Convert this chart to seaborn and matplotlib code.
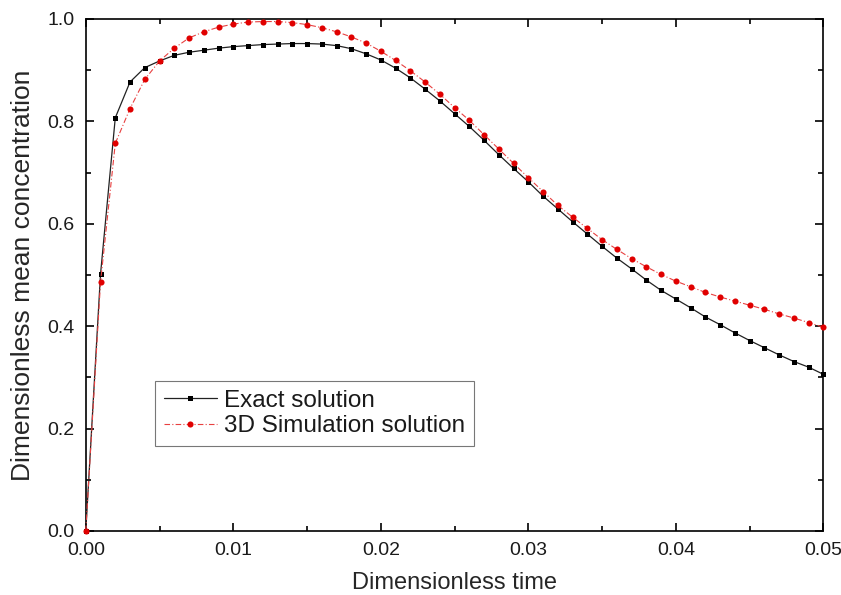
import numpy as np
import pandas as pd
import matplotlib
matplotlib.use("Agg")
import matplotlib.pyplot as plt
from matplotlib.ticker import MultipleLocator
from matplotlib.lines import Line2D
import seaborn as sns

# dimensionless time grid, one point every 0.001
time_values = np.linspace(0.0, 0.05, 51)

exact_solution = [
    0.000, 0.502, 0.807, 0.877, 0.905, 0.918, 0.929, 0.935, 0.939, 0.943,
    0.946, 0.948, 0.950, 0.951, 0.952, 0.952, 0.951, 0.948, 0.942, 0.932,
    0.920, 0.904, 0.885, 0.863, 0.840, 0.815, 0.790, 0.763, 0.735, 0.708,
    0.682, 0.654, 0.629, 0.604, 0.580, 0.556, 0.533, 0.512, 0.490, 0.470,
    0.453, 0.436, 0.418, 0.403, 0.387, 0.372, 0.358, 0.344, 0.331, 0.320,
    0.306,
]

simulation_solution = [
    0.000, 0.486, 0.757, 0.825, 0.882, 0.918, 0.943, 0.963, 0.975, 0.984,
    0.990, 0.994, 0.995, 0.995, 0.993, 0.989, 0.983, 0.975, 0.965, 0.953,
    0.937, 0.919, 0.899, 0.877, 0.853, 0.827, 0.802, 0.774, 0.746, 0.718,
    0.690, 0.663, 0.636, 0.613, 0.591, 0.569, 0.550, 0.532, 0.516, 0.501,
    0.488, 0.477, 0.466, 0.457, 0.449, 0.441, 0.433, 0.424, 0.416, 0.407,
    0.398,
]

series_labels = ["Exact solution", "3D Simulation solution"]

sns.set_style("ticks")
plt.rcParams["font.family"] = ["Liberation Sans", "DejaVu Sans"]
plt.rcParams["axes.linewidth"] = 1.2
plt.rcParams["text.color"] = "#1a1a1a"

df = pd.DataFrame({"t": time_values, "exact": exact_solution, "sim": simulation_solution})

fig = plt.figure(figsize=(8.41, 5.95), dpi=100)
ax = fig.add_axes([0.102, 0.1076, 0.877, 0.8605])

sns.lineplot(data=df, x="t", y="exact", ax=ax, color="#222222", linewidth=0.9,
             marker="s", markersize=3.6, markeredgewidth=0, markerfacecolor="black",
             clip_on=False, zorder=3)
sns.lineplot(data=df, x="t", y="sim", ax=ax, color="#e84040", linewidth=0.8,
             linestyle=(0, (5, 2, 1, 2)), marker="o", markersize=4.4,
             markeredgewidth=0, markerfacecolor="#e00000", clip_on=False, zorder=4)

ax.set_xlim(0, 0.05)
ax.set_ylim(0, 1.0)
ax.xaxis.set_major_locator(MultipleLocator(0.01))
ax.xaxis.set_minor_locator(MultipleLocator(0.005))
ax.yaxis.set_major_locator(MultipleLocator(0.2))
ax.yaxis.set_minor_locator(MultipleLocator(0.1))
ax.xaxis.set_major_formatter(plt.FuncFormatter(lambda v, p: f"{v:.2f}"))
ax.yaxis.set_major_formatter(plt.FuncFormatter(lambda v, p: f"{v:.1f}"))

ax.tick_params(which="both", direction="in", top=True, right=True, width=1.2,
               color="black", labelcolor="#1a1a1a")
ax.tick_params(which="major", length=6, labelsize=14, pad=8)
ax.tick_params(which="minor", length=3.5)

for side in ["top", "right", "left", "bottom"]:
    ax.spines[side].set_visible(True)
    ax.spines[side].set_color("black")

ax.set_xlabel("Dimensionless time", fontsize=17, labelpad=9)
ax.set_ylabel("Dimensionless mean concentration", fontsize=19, labelpad=9)

handles = [
    Line2D([], [], color="#222222", linewidth=0.9, marker="s", markersize=3.6,
           markeredgewidth=0, markerfacecolor="black"),
    Line2D([], [], color="#e84040", linewidth=0.8, linestyle=(0, (5, 2, 1, 2)),
           marker="o", markersize=4.4, markeredgewidth=0, markerfacecolor="#e00000"),
]
leg = ax.legend(handles, series_labels, loc="lower left", bbox_to_anchor=(0.094, 0.166),
                borderaxespad=0, fontsize=17.5, frameon=True, fancybox=False,
                handlelength=2.2, handletextpad=0.3, labelspacing=0.15,
                borderpad=0.35, edgecolor="#555555")
leg.get_frame().set_linewidth(0.8)

fig.savefig("out.png", dpi=100)
